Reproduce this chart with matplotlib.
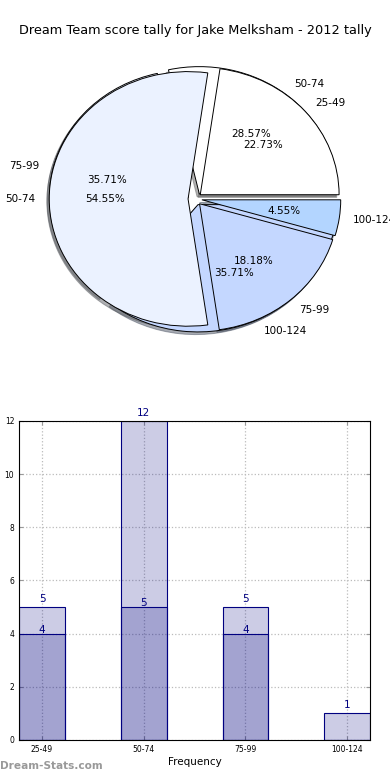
import matplotlib
matplotlib.use("Agg")
import matplotlib.pyplot as plt
import numpy as np

title = "Dream Team score tally for Jake Melksham - 2012 tally"
categories = ["25-49", "50-74", "75-99", "100-124"]

# pie data (as drawn in the picture)
pie1_labels = ["50-74", "75-99", "100-124"]
pie1_values = [4, 5, 5]
pie2_labels = ["25-49", "50-74", "75-99", "100-124"]
pie2_values = [5, 12, 4, 1]

# bar data
light_values = [5, 12, 5, 1]
dark_values = [4, 5, 4, 0]

pie_colors = ["#ffffff", "#ebf2ff", "#c4d7ff", "#b3d5ff"]
navy_fill = (0.0, 0.0, 0.5, 0.2)

fig = plt.figure(figsize=(3.9, 7.8), dpi=100)
fig.text(0.5, 0.961, title, ha="center", va="center", fontsize=9.3)

ax1 = fig.add_axes([0.055, 0.541, 0.89, 0.408])
wedge_props = {"edgecolor": "black", "linewidth": 0.7}
shadow = {"ox": -0.012, "oy": -0.015, "shade": 0.6}
ax1.pie(pie1_values, labels=pie1_labels, colors=pie_colors[:3],
        explode=[0.05] * 3, autopct="%.2f%%", shadow=shadow,
        wedgeprops=wedge_props, textprops={"fontsize": 7.5})
ax1.pie(pie2_values, labels=pie2_labels, colors=pie_colors,
        explode=[0.05] * 4, autopct="%.2f%%", shadow=shadow,
        wedgeprops=wedge_props, textprops={"fontsize": 7.5})
ax1.set_aspect("auto")
ax1.set_xlim(-1.25, 1.25)
ax1.set_ylim(-1.25, 1.25)

ax2 = fig.add_axes([0.049, 0.0513, 0.9, 0.409])
x = np.arange(len(categories))
width = 0.45
ax2.bar(x, light_values, width, align="edge", color=navy_fill,
        edgecolor="navy", linewidth=0.8)
ax2.bar(x, dark_values, width, align="edge", color=navy_fill,
        edgecolor="navy", linewidth=0.8)
for xi, v in zip(x, light_values):
    if v > 0:
        ax2.text(xi + width / 2, v + 0.12, str(v), ha="center", va="bottom",
                 color="navy", fontsize=7.5)
for xi, v in zip(x, dark_values):
    if v > 0:
        ax2.text(xi + width / 2, v - 0.05, str(v), ha="center", va="bottom",
                 color="navy", fontsize=7.5)

ax2.set_xlim(0, 3.45)
ax2.set_ylim(0, 12)
ax2.set_xticks(x + width / 2)
ax2.set_xticklabels(categories)
ax2.set_yticks(np.arange(0, 13, 2))
ax2.tick_params(direction="in", top=True, right=True, labelsize=5.5,
                length=3, color="#999999")
ax2.grid(True, linestyle=":", color="#bbbbbb", linewidth=0.9)
ax2.set_axisbelow(True)
ax2.set_xlabel("Frequency", fontsize=7.5, labelpad=2)
ax2.set_ylabel("Score Tally", fontsize=7.5, labelpad=6)

fig.text(0.0, 0.012, "Dream-Stats.com", fontsize=7.6, color="#999999",
         fontweight="bold", ha="left", va="bottom")

fig.savefig("out.png", dpi=100)
